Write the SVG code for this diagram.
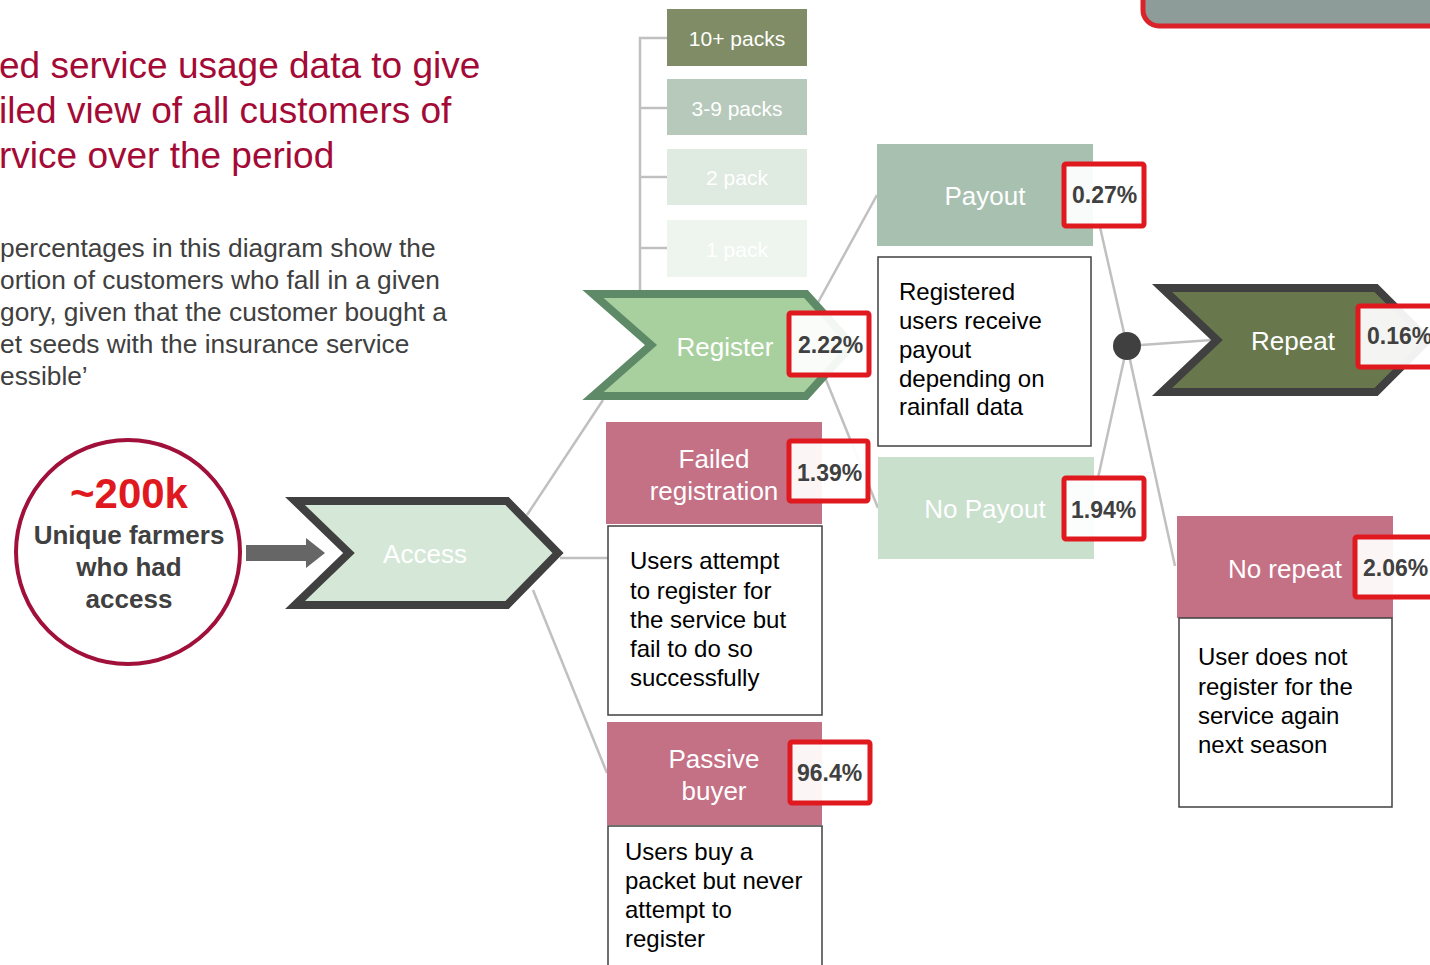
<svg xmlns="http://www.w3.org/2000/svg" width="1430" height="965" viewBox="0 0 1430 965">
<style>
text{font-family:"Liberation Sans",Arial,sans-serif}
.title{fill:#a30b36;font-size:37px}
.body{fill:#404040;font-size:26.3px}
.lbl{fill:#ffffff;font-size:26px;text-anchor:middle}
.pk{fill:#ffffff;font-size:21px;text-anchor:middle}
.pct{fill:#404040;font-size:23px;font-weight:bold}
.desc{fill:#000000;font-size:24px}
.pbox{fill:#ffffff;fill-opacity:0.93;stroke:#e0191f;stroke-width:5}
.dbox{fill:#ffffff;stroke:#404040;stroke-width:1.5}
.con{stroke:#c0c0c0;stroke-width:2.5;fill:none}
</style>
<rect width="1430" height="965" fill="#ffffff"/>
<g id="title">
<text class="title" x="-1" y="78">ed service usage data to give</text>
<text class="title" x="-1" y="123">iled view of all customers of</text>
<text class="title" x="-1" y="168">rvice over the period</text>
</g>
<g id="note">
<text class="body" x="0" y="257">percentages in this diagram show the</text>
<text class="body" x="0" y="289">ortion of customers who fall in a given</text>
<text class="body" x="0" y="321">gory, given that the customer bought a</text>
<text class="body" x="0" y="353">et seeds with the insurance service</text>
<text class="body" x="0" y="385">essible’</text>
</g>
<g id="topbox">
<rect x="1143" y="-30" width="320" height="56" rx="16" fill="#8e9c99" stroke="#d9222a" stroke-width="5"/>
</g>
<g id="connectors">
<polyline class="con" points="667,38 640,38 640,292"/>
<line class="con" x1="640" y1="108" x2="667" y2="108"/>
<line class="con" x1="640" y1="177" x2="667" y2="177"/>
<line class="con" x1="640" y1="248" x2="667" y2="248"/>
<line class="con" x1="527" y1="515" x2="603" y2="400"/>
<line class="con" x1="560" y1="558" x2="608" y2="558"/>
<line class="con" x1="533" y1="590" x2="607" y2="773"/>
<line class="con" x1="815" y1="308" x2="877" y2="195"/>
<line class="con" x1="820" y1="365" x2="878" y2="508"/>
<line class="con" x1="1100" y1="227" x2="1127" y2="346"/>
<line class="con" x1="1098" y1="478" x2="1127" y2="346"/>
<line class="con" x1="1127" y1="346" x2="1212" y2="340"/>
<line class="con" x1="1127" y1="346" x2="1175" y2="566"/>
<path d="M246,545 H306 V538 L325,553 L306,568 V561 H246 Z" fill="#666666"/>
</g>
<g id="farmers">
<circle cx="128" cy="552" r="112" fill="#ffffff" stroke="#a0103a" stroke-width="4"/>
<text x="129" y="508" text-anchor="middle" font-size="42" font-weight="bold" fill="#e0191f">~200k</text>
<text x="129" y="544" text-anchor="middle" font-size="26" font-weight="bold" fill="#404040">Unique farmers</text>
<text x="129" y="576" text-anchor="middle" font-size="26" font-weight="bold" fill="#404040">who had</text>
<text x="129" y="608" text-anchor="middle" font-size="26" font-weight="bold" fill="#404040">access</text>
</g>
<g id="access">
<polygon points="295,501 507,501 558,553 507,605 295,605 349,553" fill="#d5e8d8" stroke="#404040" stroke-width="8" stroke-linejoin="miter"/>
<text class="lbl" x="425" y="563">Access</text>
</g>
<g id="packs">
<g id="p10"><rect x="667" y="9" width="140" height="57" fill="#7f8c65"/><text class="pk" x="737" y="46">10+ packs</text></g>
<g id="p39"><rect x="667" y="79" width="140" height="56" fill="#b6c9ba"/><text class="pk" x="737" y="116">3-9 packs</text></g>
<g id="p2"><rect x="667" y="149" width="140" height="56" fill="#dfeae1"/><text class="pk" x="737" y="185">2 pack</text></g>
<g id="p1"><rect x="667" y="220" width="140" height="57" fill="#eef5ef"/><text class="pk" x="737" y="257">1 pack</text></g>
</g>
<g id="register">
<polygon points="593,294 806,294 852,345 806,396 593,396 651,345" fill="#a8d09e" stroke="#5e8a68" stroke-width="8"/>
<text class="lbl" x="725" y="356">Register</text>
<rect class="pbox" x="789" y="313" width="80" height="62" rx="2"/>
<text class="pct" x="798" y="353">2.22%</text>
</g>
<g id="payout">
<rect x="877" y="144" width="216" height="102" fill="#a8c0b0"/>
<text class="lbl" x="985" y="205">Payout</text>
<rect class="pbox" x="1064" y="164" width="80" height="62" rx="2"/>
<text class="pct" x="1072" y="203">0.27%</text>
</g>
<g id="payout-desc">
<rect class="dbox" x="878" y="257" width="213" height="189"/>
<text class="desc" x="899" y="300">Registered</text>
<text class="desc" x="899" y="329">users receive</text>
<text class="desc" x="899" y="358">payout</text>
<text class="desc" x="899" y="387">depending on</text>
<text class="desc" x="899" y="415">rainfall data</text>
</g>
<g id="nopayout">
<rect x="878" y="457" width="216" height="102" fill="#c8e0cc"/>
<text class="lbl" x="985" y="518">No Payout</text>
<rect class="pbox" x="1064" y="478" width="80" height="61" rx="2"/>
<text class="pct" x="1071" y="518">1.94%</text>
</g>
<g id="hub">
<circle cx="1127" cy="346" r="14" fill="#404040"/>
</g>
<g id="repeat">
<polygon points="1162,288 1376,288 1428,340 1376,392 1162,392 1217,340" fill="#68784c" stroke="#404040" stroke-width="8"/>
<text class="lbl" x="1293" y="350">Repeat</text>
<rect class="pbox" x="1358" y="306" width="90" height="61" rx="2"/>
<text class="pct" x="1367" y="344">0.16%</text>
</g>
<g id="norepeat">
<rect x="1177" y="516" width="216" height="102" fill="#c47085"/>
<text class="lbl" x="1285" y="578">No repeat</text>
<rect class="pbox" x="1355" y="537" width="90" height="60" rx="2"/>
<text class="pct" x="1363" y="576">2.06%</text>
</g>
<g id="norepeat-desc">
<rect class="dbox" x="1179" y="618" width="213" height="189"/>
<text class="desc" x="1198" y="665">User does not</text>
<text class="desc" x="1198" y="695">register for the</text>
<text class="desc" x="1198" y="724">service again</text>
<text class="desc" x="1198" y="753">next season</text>
</g>
<g id="failed">
<rect x="606" y="422" width="216" height="102" fill="#c47085"/>
<text class="lbl" x="714" y="468">Failed</text>
<text class="lbl" x="714" y="500">registration</text>
<rect class="pbox" x="789" y="441" width="79" height="60" rx="2"/>
<text class="pct" x="797" y="481">1.39%</text>
</g>
<g id="failed-desc">
<rect class="dbox" x="608" y="526" width="214" height="189"/>
<text class="desc" x="630" y="569">Users attempt</text>
<text class="desc" x="630" y="599">to register for</text>
<text class="desc" x="630" y="628">the service but</text>
<text class="desc" x="630" y="657">fail to do so</text>
<text class="desc" x="630" y="686">successfully</text>
</g>
<g id="passive">
<rect x="607" y="722" width="215" height="103" fill="#c47085"/>
<text class="lbl" x="714" y="768">Passive</text>
<text class="lbl" x="714" y="800">buyer</text>
<rect class="pbox" x="790" y="742" width="80" height="61" rx="2"/>
<text class="pct" x="797" y="781">96.4%</text>
</g>
<g id="passive-desc">
<rect class="dbox" x="608" y="826" width="214" height="150"/>
<text class="desc" x="625" y="860">Users buy a</text>
<text class="desc" x="625" y="889">packet but never</text>
<text class="desc" x="625" y="918">attempt to</text>
<text class="desc" x="625" y="947">register</text>
</g>
</svg>
